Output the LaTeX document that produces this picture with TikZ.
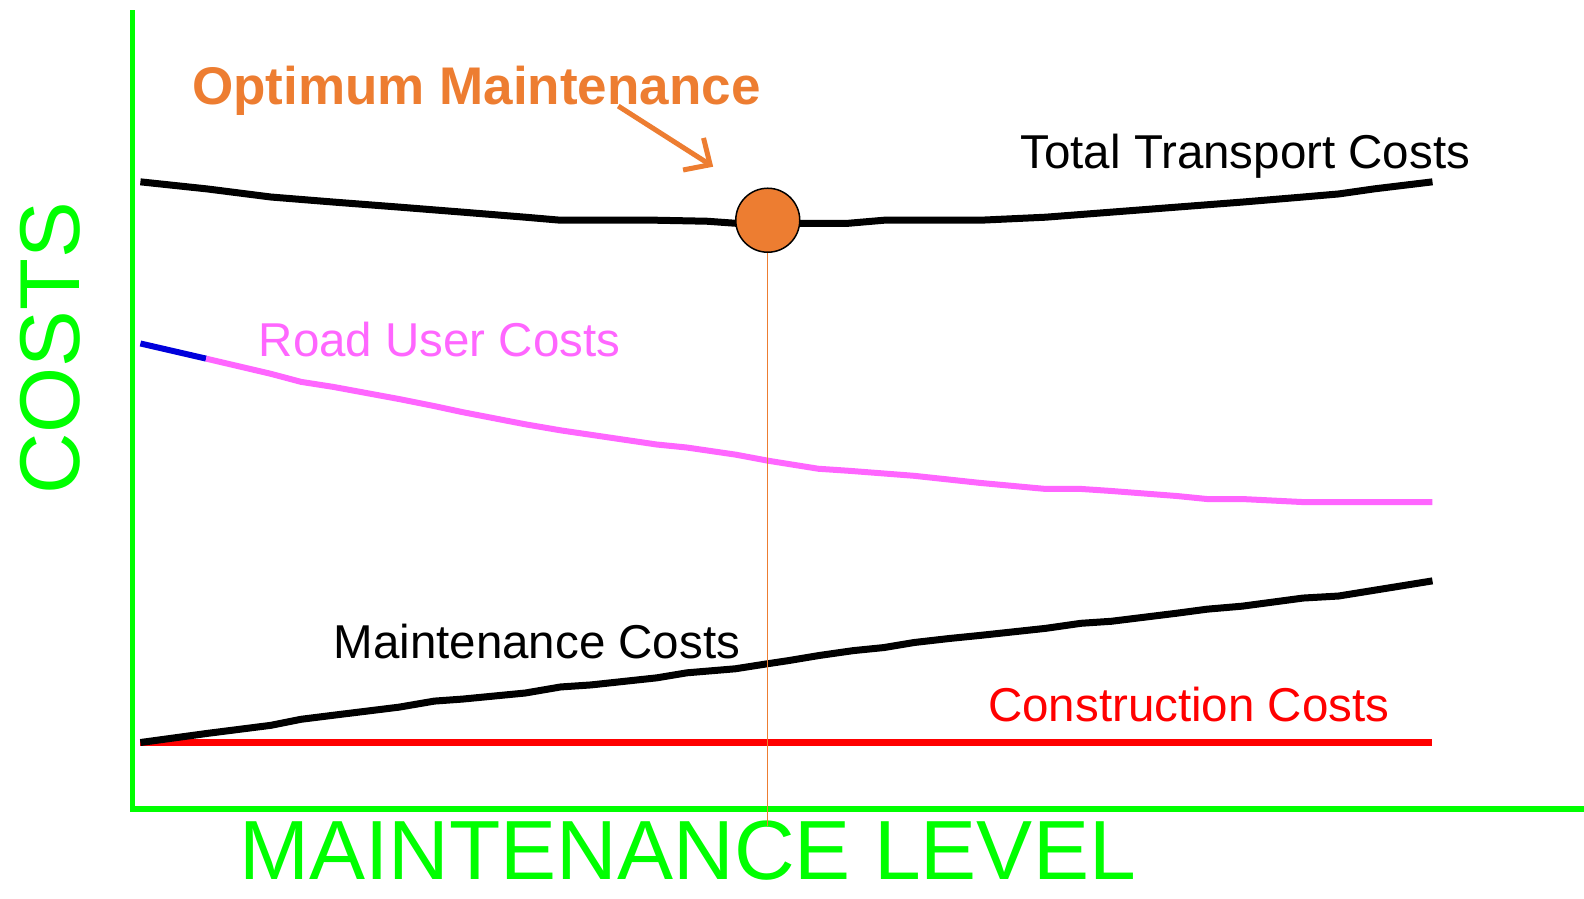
\documentclass[tikz,border=0pt]{standalone}
\usepackage{fontspec}
\setmainfont{Liberation Sans}
\usetikzlibrary{arrows.meta}
\definecolor{axisgreen}{RGB}{0,255,0}
\definecolor{optorange}{RGB}{237,125,49}
\definecolor{userpink}{RGB}{255,102,255}
\definecolor{userblue}{RGB}{0,0,220}
\definecolor{conred}{RGB}{255,0,0}
\tikzset{
  axisline/.style={draw=axisgreen, line width=5.5pt},
  curve/.style={line width=7pt, line join=round},
  lbl/.style={inner sep=0pt, anchor=base west, font=\fontsize{47.5}{52}\selectfont},
  biglbl/.style={inner sep=0pt, anchor=base west, text=axisgreen, font=\fontsize{85}{90}\selectfont},
}
\begin{document}
\begin{tikzpicture}[x=1.0102pt, y=-1.0102pt]
\useasboundingbox[fill=white] (0,0) rectangle (1568,889);
% axes
\coordinate (ytop) at (131,10);
\coordinate (orig) at (131,801);
\coordinate (xend) at (1568,801);
\draw[axisline] (ytop) -- (orig) -- (xend);
% axis labels
\node[biglbl, rotate=90] (costs) at (79,490) {COSTS};
\node[biglbl, font=\fontsize{84}{88}\selectfont] (mlevel) at (237,871) {MAINTENANCE LEVEL};
% construction costs
\draw[curve, draw=conred, line width=6.5pt] (139,735) -- (1418,735);
% maintenance costs
\draw[curve, draw=black] (139,735) -- (205,726) -- (268,718) -- (298,712) -- (330,708) -- (395,700) -- (430,694) -- (458,692) -- (520,686) -- (555,680) -- (585,678) -- (650,671) -- (680,666) -- (728,662) -- (760,657) -- (780,654) -- (810,649) -- (845,644) -- (875,641) -- (905,636) -- (940,632) -- (970,629) -- (1035,622) -- (1070,617) -- (1100,615) -- (1165,607) -- (1195,603) -- (1230,600) -- (1290,592) -- (1325,590) -- (1418,575);
% road user costs
\draw[curve, draw=userblue, line width=6pt] (139,340) -- (204,355);
\draw[curve, draw=userpink, line width=6pt] (204,355) -- (268,370) -- (298,378) -- (330,383) -- (395,395) -- (430,402) -- (458,408) -- (520,420) -- (555,426) -- (650,440) -- (680,443) -- (728,450) -- (760,456) -- (810,464) -- (840,466) -- (905,471) -- (970,478) -- (1035,484) -- (1070,484) -- (1100,486) -- (1165,491) -- (1195,494) -- (1230,494) -- (1290,497) -- (1418,497);
% total transport costs
\draw[curve, draw=black] (139,180) -- (205,187) -- (268,195) -- (330,200) -- (395,205) -- (458,210) -- (520,215) -- (555,218) -- (650,218) -- (700,219) -- (728,221) -- (760,221) -- (795,221) -- (840,221) -- (875,218) -- (970,218) -- (1035,215) -- (1100,210) -- (1165,205) -- (1230,200) -- (1290,195) -- (1325,192) -- (1360,187) -- (1418,180);
% optimum point
\node[circle, draw=black, line width=1.5pt, fill=optorange, minimum size=64pt, inner sep=0pt] (opt) at (760,218) {};
\coordinate (vbot) at (760,818);
\draw[optorange, line width=0.8pt] (opt.south) -- (vbot);
% labels
\node[lbl, text=black] (ttc) at (1010,167) {Total Transport Costs};
\node[lbl, text=userpink] (ruc) at (256,353) {Road User Costs};
\node[lbl, text=black] (mc) at (330,652) {Maintenance Costs};
\node[lbl, text=conred] (cc) at (978,714) {Construction Costs};
\node[inner sep=0pt, anchor=base west, text=optorange, font=\bfseries\fontsize{53}{58}\selectfont] (optlbl) at (190,103) {Optimum Maintenance};
\coordinate (arrs) at (612,105);
\coordinate (arre) at (706,165);
\draw[optorange, line width=5pt, -{Straight Barb[length=20pt, width=38pt, line width=5pt]}] (arrs) -- (arre);
\end{tikzpicture}
\end{document}
